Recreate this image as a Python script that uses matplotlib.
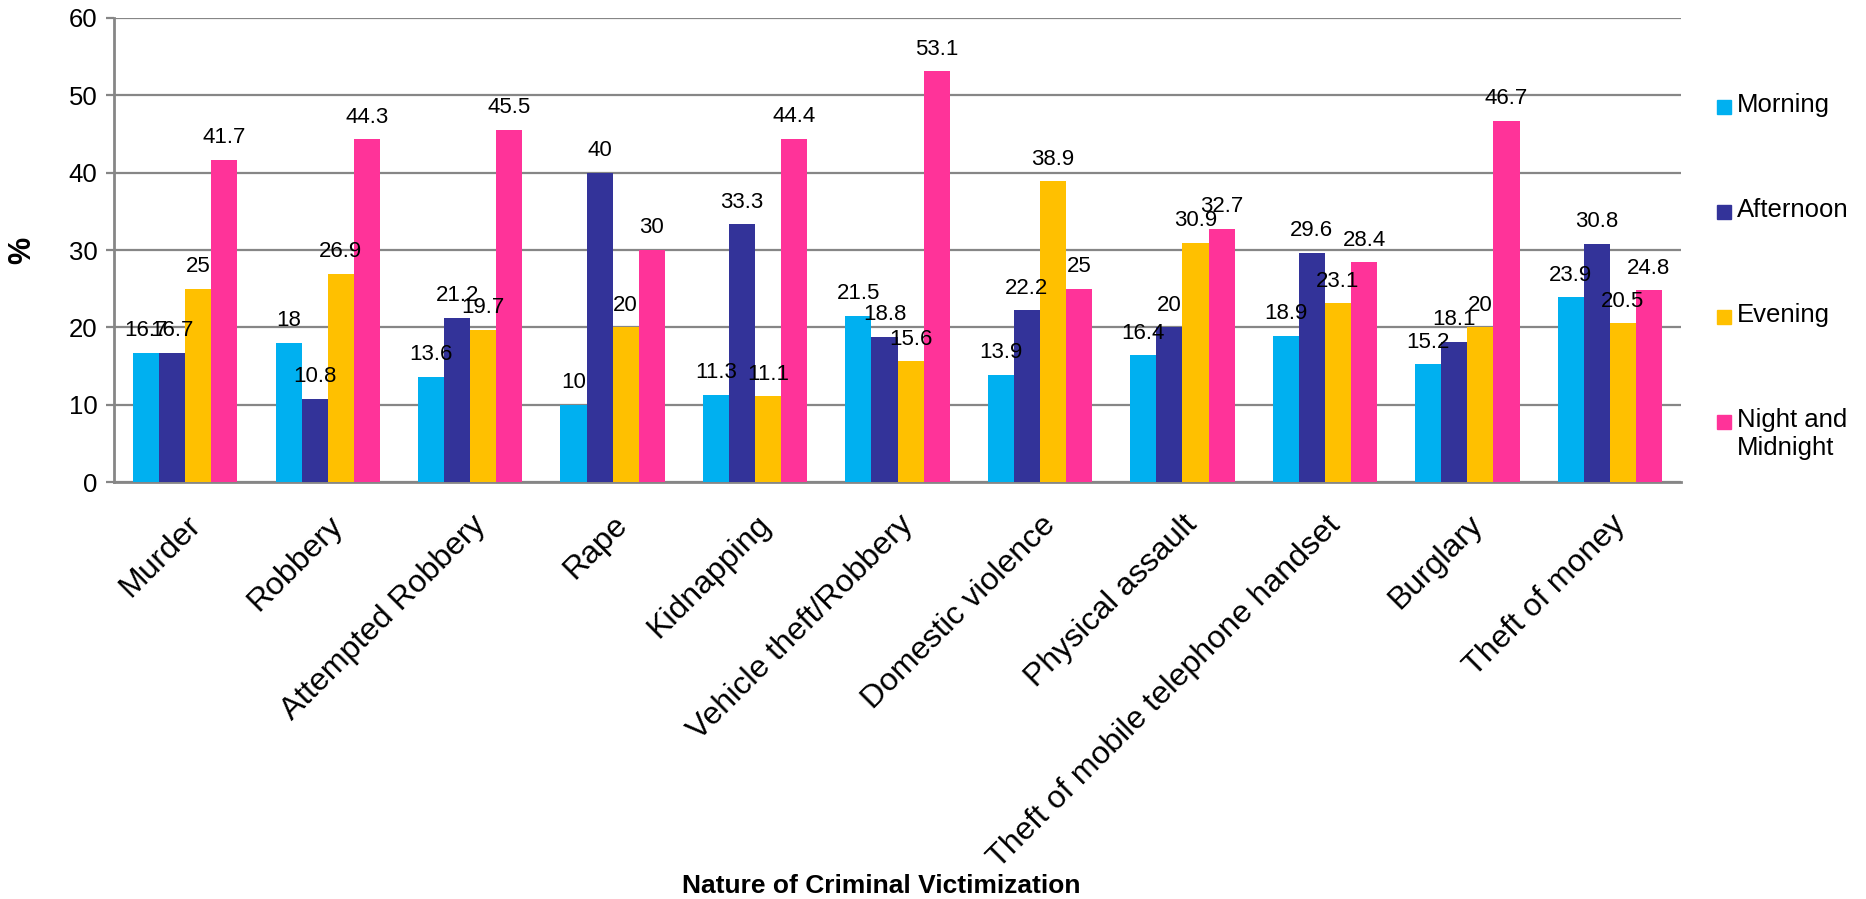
import matplotlib
matplotlib.use('Agg')
import matplotlib.pyplot as plt
import numpy as np
from matplotlib.patches import Rectangle

plt.rcParams['font.family'] = ['Liberation Sans', 'DejaVu Sans']

categories = ['Murder', 'Robbery', 'Attempted Robbery', 'Rape', 'Kidnapping',
              'Vehicle theft/Robbery', 'Domestic violence', 'Physical assault',
              'Theft of mobile telephone handset', 'Burglary', 'Theft of money']
series_names = ['Morning', 'Afternoon', 'Evening', 'Night and\nMidnight']
morning = [16.7, 18, 13.6, 10, 11.3, 21.5, 13.9, 16.4, 18.9, 15.2, 23.9]
afternoon = [16.7, 10.8, 21.2, 40, 33.3, 18.8, 22.2, 20, 29.6, 18.1, 30.8]
evening = [25, 26.9, 19.7, 20, 11.1, 15.6, 38.9, 30.9, 23.1, 20, 20.5]
night = [41.7, 44.3, 45.5, 30, 44.4, 53.1, 25, 32.7, 28.4, 46.7, 24.8]
colors = ['#00B0F0', '#333399', '#FFC000', '#FF3399']

fig = plt.figure(figsize=(18.66, 8.99), dpi=100)
ax = fig.add_axes([0.0611, 0.4638, 0.8398, 0.5162])

x = np.arange(len(categories))
w = 0.183
grey = '#868686'

for i, (vals, c) in enumerate(zip([morning, afternoon, evening, night], colors)):
    pos = x + (i - 1.5) * w
    ax.bar(pos, vals, width=w, color=c, edgecolor='none', zorder=3)
    for p, v in zip(pos, vals):
        ax.annotate('%g' % v, (p, v), xytext=(0, 12), textcoords='offset points',
                    ha='center', va='baseline', fontsize=16, zorder=4)

ax.set_xlim(-0.5, len(categories) - 0.5)
ax.set_ylim(0, 60)
ax.set_yticks(range(0, 61, 10))
ax.yaxis.grid(True, color=grey, linewidth=1.6, zorder=0)
ax.set_axisbelow(True)
for s in ['top', 'right']:
    ax.spines[s].set_visible(False)
for s in ['left', 'bottom']:
    ax.spines[s].set_color(grey)
    ax.spines[s].set_linewidth(2)
ax.tick_params(axis='y', length=6, width=1.6, color=grey, labelsize=18.5, pad=6)
ax.tick_params(axis='x', length=0, pad=20, labelsize=23)
ax.set_xticks(x)
ax.set_xticklabels(categories, rotation=45, ha='right', va='top', rotation_mode='anchor')

fig.text(22 / 1866, 1 - 250 / 899, '%', rotation=90, ha='center', va='center',
         fontsize=22, fontweight='bold')
fig.text(881 / 1866, 1 - 893 / 899, 'Nature of Criminal Victimization', ha='center',
         va='baseline', fontsize=19, fontweight='bold')

# legend on the right
ys = [107, 212, 317, 422]
for name, c, yc in zip(series_names, colors, ys):
    fig.patches.append(Rectangle((1717 / 1866, 1 - (yc + 7) / 899), 14 / 1866, 14 / 899,
                                 transform=fig.transFigure, color=c))
    fig.text(1737 / 1866, 1 - (yc - 14) / 899, name, ha='left', va='top',
             fontsize=18.5, linespacing=1.2)

fig.savefig('out.png', dpi=100)
